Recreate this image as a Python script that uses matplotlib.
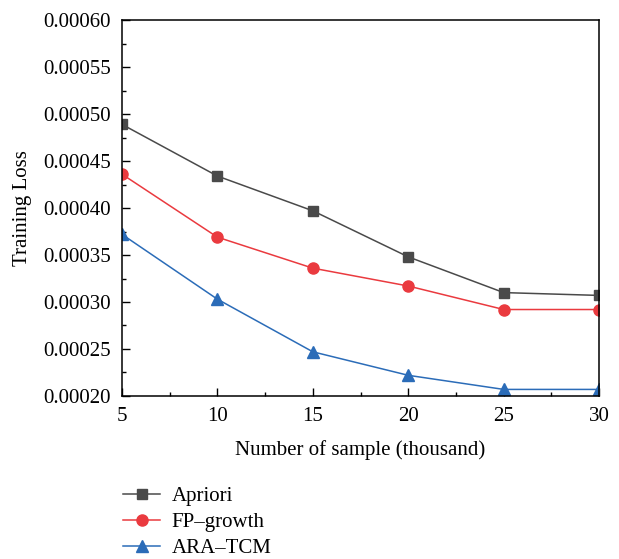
import matplotlib
matplotlib.use("Agg")
import matplotlib.pyplot as plt
from matplotlib.ticker import MultipleLocator, FormatStrFormatter

plt.rcParams['font.family'] = ['Liberation Serif', 'DejaVu Serif']

samples = [5, 10, 15, 20, 25, 30]
apriori = [0.000489, 0.000434, 0.000397, 0.000348, 0.000310, 0.000307]
fp_growth = [0.000436, 0.000369, 0.000336, 0.000317, 0.000292, 0.000292]
ara_tcm = [0.000372, 0.000303, 0.000247, 0.000222, 0.000207, 0.000207]

fig = plt.figure(figsize=(6.19, 5.59), dpi=100)
ax = fig.add_axes([0.197, 0.2916, 0.771, 0.6726])

l1, = ax.plot(samples, apriori, color='#4a4a4a', marker='s', markersize=7, lw=1.1, label='Apriori')
l2, = ax.plot(samples, fp_growth, color='#ea3a3f', marker='o', markersize=8, lw=1.1, label='FP\u2013growth')
l3, = ax.plot(samples, ara_tcm, color='#2b6cb8', marker='^', markersize=8, lw=1.1, label='ARA\u2013TCM')

ax.set_xlim(5, 30)
ax.set_ylim(0.0002, 0.0006)
ax.xaxis.set_major_locator(MultipleLocator(5))
ax.xaxis.set_minor_locator(MultipleLocator(2.5))
ax.yaxis.set_major_locator(MultipleLocator(0.00005))
ax.yaxis.set_minor_locator(MultipleLocator(0.000025))
ax.yaxis.set_major_formatter(FormatStrFormatter('%.5f'))
ax.tick_params(which='major', direction='in', length=6, width=1, labelsize=15, pad=8)
ax.tick_params(which='minor', direction='in', length=3, width=1)
for s in ax.spines.values():
    s.set_linewidth(1.1)

ax.set_xlabel('Number of sample (thousand)', fontsize=15, labelpad=10)
ax.set_ylabel('Training Loss', fontsize=15, labelpad=8)

fig.legend(handles=[l1, l2, l3], loc='upper left', bbox_to_anchor=(0.185, 0.145),
           frameon=False, fontsize=15, handlelength=1.8, labelspacing=0.32,
           borderaxespad=0, handletextpad=0.55)

fig.savefig('out.png', dpi=100)
